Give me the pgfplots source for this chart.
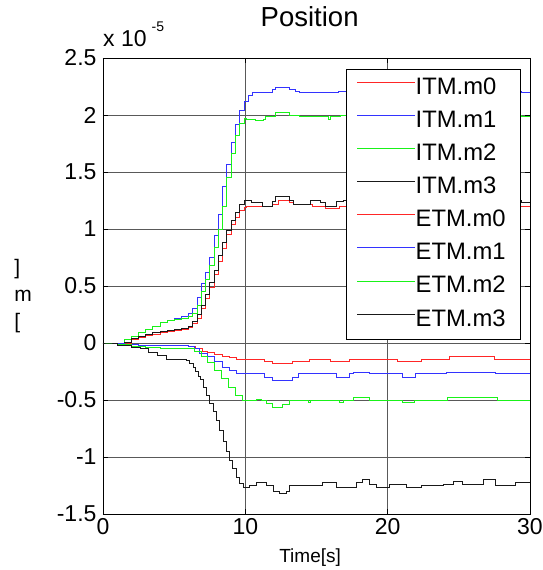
\documentclass[border=0pt]{standalone}
\usepackage{fontspec}
\setmainfont{Liberation Sans}
\usepackage{pgfplots}
\pgfplotsset{compat=1.18}
\definecolor{cRed}{rgb}{1,0.15,0.15}
\definecolor{cBlue}{rgb}{0.2,0.2,1}
\definecolor{cGreen}{rgb}{0.1,0.95,0.1}
\definecolor{cBlack}{rgb}{0.1,0.1,0.1}
\begin{document}
\begin{tikzpicture}[x=1pt,y=1pt]
\begin{axis}[
  set layers=standard,
  at={(0,0)}, anchor=south west,
  scale only axis, width=427pt, height=456pt,
  xmin=0, xmax=30, ymin=-1.5, ymax=2.5,
  xtick={0,10,20,30}, xticklabels={0,10,20,30},
  ytick={-1.5,-1,-0.5,0,0.5,1,1.5,2,2.5},
  yticklabels={-1.5,-1,-0.5,0,0.5,1,1.5,2,2.5},
  ticklabel style={font=\fontsize{23}{23}\selectfont},
  yticklabel style={xshift=-3pt},
  xticklabel style={yshift=-1pt},
  tick align=inside, major tick length=5pt,
  tick style={black, line width=0.6pt},
  axis line style={black, line width=0.8pt},
  xmajorgrids, ymajorgrids,
  grid style={black!65, line width=0.6pt},
  title={Position},
  title style={at={(axis description cs:0.484,1)}, anchor=base, yshift=25pt, inner sep=0pt, font=\fontsize{27.5}{27.5}\selectfont},
  xlabel={Time[s]},
  xlabel style={at={(axis description cs:0.485,0)}, anchor=north, yshift=-35pt, inner sep=0pt, font=\fontsize{19}{19}\selectfont},
  legend cell align=left,
  legend style={at={(axis description cs:0.979,0.976)}, anchor=north east,
    draw=black, line width=0.8pt, fill=white,
    font=\fontsize{23.8}{23.8}\selectfont,
    inner xsep=11pt, inner ysep=8pt, row sep=11.1pt,
    nodes={inner sep=0pt, text height=17pt, text depth=5pt}},
  legend image code/.code={\draw[#1, line width=0.7pt] (0pt,6pt) -- (55pt,6pt); \path (0pt,6pt) -- (58pt,6pt);},
  every axis plot/.append style={line width=0.7pt, const plot},
]
% ITM.m0
\addplot[cRed] coordinates {(0,0)(1.5,0)(2,0.03)(2.5,0.05)(3,0.07)(3.5,0.08)(4,0.095)(4.5,0.10)(5,0.11)(5.5,0.12)(6,0.14)(6.3,0.17)(6.6,0.22)(6.9,0.30)(7.2,0.39)(7.5,0.49)(7.8,0.60)(8.1,0.72)(8.4,0.83)(8.7,0.95)(9,1.04)(9.3,1.10)(9.6,1.16)(9.9,1.19)(10.1,1.20)(11.9,1.22)(12.3,1.25)(13.1,1.23)(13.4,1.22)(14.7,1.20)(15.6,1.18)(16.6,1.20)(29.4,1.20)(30,1.20)};
\addlegendentry{ITM.m0\hspace*{4pt}}
% ITM.m1
\addplot[cBlue] coordinates {(0,0)(1,0)(1.5,0.03)(2,0.06)(2.5,0.09)(3,0.12)(3.5,0.15)(4,0.18)(4.5,0.20)(5,0.22)(5.5,0.23)(6,0.26)(6.3,0.30)(6.6,0.40)(6.9,0.52)(7.2,0.62)(7.5,0.75)(7.8,0.94)(8.1,1.13)(8.4,1.37)(8.7,1.57)(9,1.76)(9.3,1.92)(9.6,2.04)(9.9,2.12)(10.2,2.17)(10.5,2.20)(11.9,2.225)(12.1,2.24)(13.1,2.225)(13.5,2.21)(13.8,2.195)(16.5,2.21)(29.4,2.20)(30,2.20)};
\addlegendentry{ITM.m1\hspace*{4pt}}
% ITM.m2
\addplot[cGreen] coordinates {(0,0)(1,0)(1.5,0.03)(2,0.06)(2.5,0.09)(3,0.12)(3.5,0.15)(4,0.18)(4.5,0.20)(5,0.21)(5.5,0.22)(6,0.23)(6.3,0.26)(6.6,0.33)(6.9,0.45)(7.2,0.56)(7.5,0.68)(7.8,0.84)(8.1,1.00)(8.4,1.20)(8.7,1.45)(9,1.66)(9.3,1.82)(9.6,1.93)(9.9,1.97)(10.1,1.96)(10.7,1.95)(11.3,1.96)(11.4,1.99)(12.1,2.025)(13.1,2.0)(13.8,1.99)(15.8,1.96)(16.0,1.99)(16.7,2.0)(29.4,1.99)(30,1.99)};
\addlegendentry{ITM.m2\hspace*{4pt}}
% ITM.m3
\addplot[cBlack] coordinates {(0,0)(1.5,0.01)(2,0.04)(2.5,0.06)(3,0.08)(3.5,0.09)(4,0.10)(4.5,0.11)(5,0.12)(5.5,0.13)(6,0.15)(6.3,0.19)(6.6,0.25)(6.9,0.33)(7.2,0.43)(7.5,0.53)(7.8,0.64)(8.1,0.77)(8.4,0.88)(8.7,0.99)(9,1.08)(9.3,1.15)(9.6,1.22)(9.9,1.255)(10.4,1.23)(11.2,1.20)(11.9,1.24)(12.1,1.29)(13.1,1.25)(13.4,1.22)(14.6,1.25)(15.3,1.23)(15.6,1.20)(16.4,1.24)(16.9,1.255)(29.4,1.23)(30,1.23)};
\addlegendentry{ITM.m3\hspace*{4pt}}
% ETM.m0
\addplot[cRed] coordinates {(0,0)(1.5,-0.01)(2.5,-0.02)(6.0,-0.03)(6.5,-0.05)(7.0,-0.07)(7.3,-0.08)(7.8,-0.10)(8.4,-0.12)(8.9,-0.13)(9.4,-0.14)(11.35,-0.16)(11.9,-0.18)(13.3,-0.165)(14.5,-0.14)(16.0,-0.165)(17.3,-0.14)(20.7,-0.165)(22.4,-0.14)(24.3,-0.115)(27.5,-0.14)(30,-0.14)};
\addlegendentry{ETM.m0\hspace*{4pt}}
% ETM.m1
\addplot[cBlue] coordinates {(0,0)(1.5,-0.01)(2.5,-0.02)(6.0,-0.03)(6.4,-0.05)(6.8,-0.09)(7.3,-0.12)(7.8,-0.16)(8.4,-0.21)(8.9,-0.24)(9.4,-0.27)(11.35,-0.30)(11.9,-0.33)(13.3,-0.30)(13.7,-0.27)(16.4,-0.30)(17.3,-0.27)(17.6,-0.256)(18.7,-0.27)(21.0,-0.30)(21.95,-0.27)(24.1,-0.256)(27.6,-0.27)(30,-0.27)};
\addlegendentry{ETM.m1\hspace*{4pt}}
% ETM.m2
\addplot[cGreen] coordinates {(0,0)(1,-0.01)(2,-0.03)(3,-0.04)(4,-0.05)(6.0,-0.05)(6.4,-0.07)(6.9,-0.12)(7.3,-0.17)(7.8,-0.24)(8.3,-0.31)(8.8,-0.39)(9.3,-0.46)(9.8,-0.50)(10.8,-0.49)(11.1,-0.50)(11.5,-0.53)(11.9,-0.565)(12.6,-0.54)(13.1,-0.50)(14.4,-0.52)(14.6,-0.50)(16.6,-0.52)(16.9,-0.50)(17.6,-0.48)(18.7,-0.50)(21.0,-0.52)(21.9,-0.50)(24.2,-0.48)(27.7,-0.50)(30,-0.50)};
\addlegendentry{ETM.m2\hspace*{4pt}}
% ETM.m3
\addplot[cBlack] coordinates {(0,0)(0.3,0)(1.0,-0.02)(2.0,-0.04)(2.6,-0.05)(3.2,-0.08)(3.8,-0.11)(4.46,-0.14)(5.86,-0.15)(6.1,-0.18)(6.33,-0.21)(6.5,-0.25)(6.7,-0.29)(6.85,-0.32)(7.03,-0.39)(7.25,-0.46)(7.5,-0.53)(7.75,-0.60)(7.97,-0.68)(8.2,-0.77)(8.43,-0.86)(8.65,-0.95)(8.9,-1.03)(9.1,-1.10)(9.37,-1.18)(9.6,-1.23)(9.83,-1.27)(10.3,-1.25)(10.77,-1.22)(11.47,-1.25)(11.94,-1.30)(12.4,-1.32)(12.87,-1.30)(13.1,-1.25)(14.27,-1.25)(15.44,-1.22)(16.4,-1.27)(17.8,-1.22)(18.25,-1.20)(18.7,-1.24)(19.2,-1.27)(20.1,-1.24)(21.3,-1.27)(22.4,-1.245)(23.9,-1.24)(24.6,-1.21)(25.25,-1.24)(26.7,-1.20)(27.6,-1.245)(29.0,-1.22)(30,-1.22)};
\addlegendentry{ETM.m3\hspace*{4pt}}
\end{axis}
\node[anchor=base west, inner sep=0pt, font=\fontsize{23}{23}\selectfont] at (0,467) {x 10\hspace{5pt}\raisebox{15pt}{\fontsize{14}{14}\selectfont -5}};
\node[align=left, anchor=center, inner sep=0pt, font=\fontsize{21}{27}\selectfont] at (-80,218) {{]}\\{m}\\{[}};
\pgfresetboundingbox
\useasboundingbox (-103,-56) rectangle (439,514);
\end{tikzpicture}
\end{document}
